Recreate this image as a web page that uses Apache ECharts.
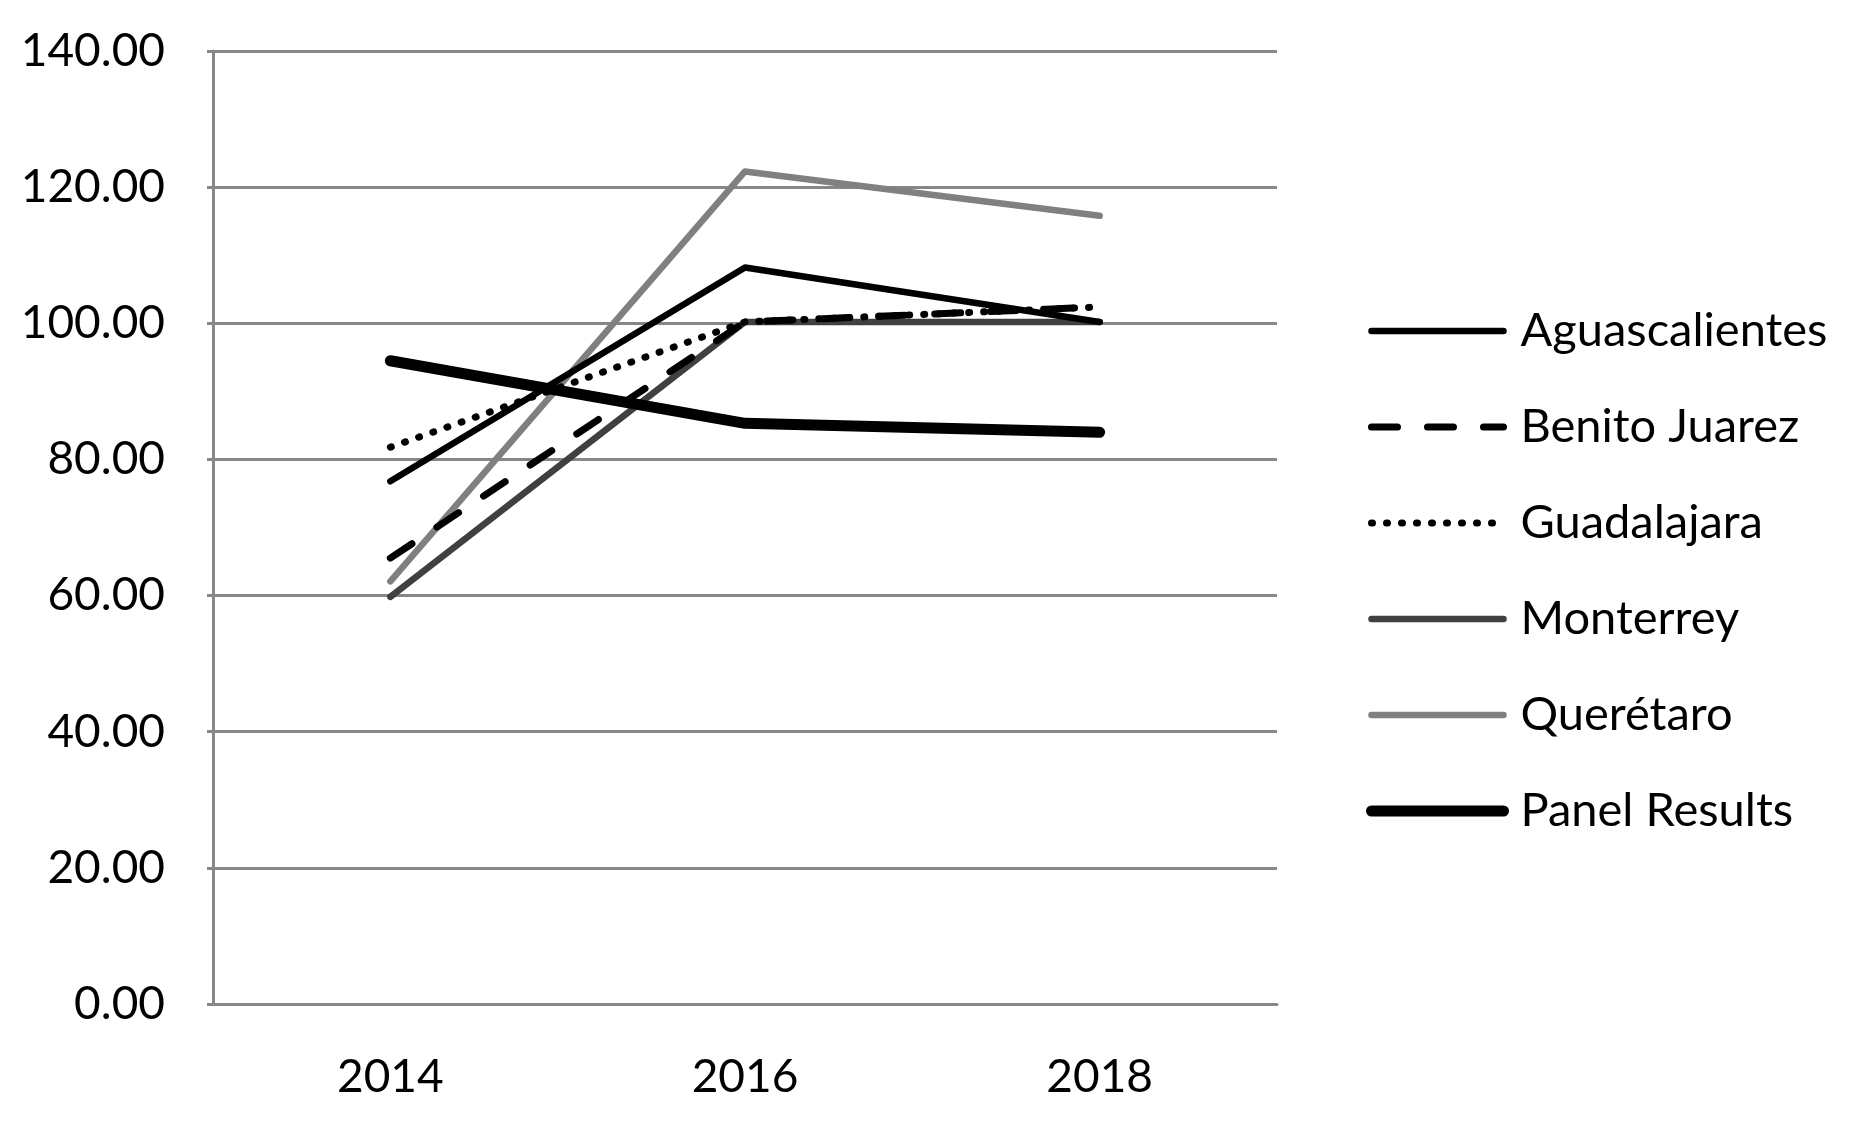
<!DOCTYPE html>
<html>
<head>
<meta charset="utf-8">
<script src="https://cdn.jsdelivr.net/npm/echarts@6/dist/echarts.min.js"></script>
<style>html,body{margin:0;padding:0;background:#fff;}#c{width:1858px;height:1121px;}</style>
</head>
<body>
<div id="c"></div>
<script>
const years = ['2014', '2016', '2018'];
const aguascalientes = [76.8, 108.2, 100.2];
const benitoJuarez = [65.5, 100.2, 102.4];
const guadalajara = [81.8, 100.2, 102.4];
const monterrey = [59.8, 100.2, 100.2];
const queretaro = [62.1, 122.3, 115.8];
const panelResults = [94.5, 85.3, 84.0];
const seriesNames = ['Aguascalientes', 'Benito Juarez', 'Guadalajara', 'Monterrey', 'Querétaro', 'Panel Results'];

const chart = echarts.init(document.getElementById('c'), null, {renderer: 'canvas'});
const font = 'Lato, "Open Sans", sans-serif';
function ser(name, data, color, width, type, z) {
  return {
    name: name, type: 'line', data: data, symbol: 'none', z: z,
    lineStyle: {color: color, width: width, type: type, cap: 'round', join: 'round'},
    itemStyle: {color: color},
    emphasis: {disabled: true}
  };
}
chart.setOption({
  animation: false,
  backgroundColor: '#ffffff',
  grid: {left: 213, top: 51, width: 1064, height: 953, containLabel: false},
  xAxis: {
    type: 'category', data: years, boundaryGap: true,
    axisLine: {lineStyle: {color: '#878787', width: 3}},
    axisTick: {show: false},
    axisLabel: {fontFamily: font, fontSize: 46, color: '#000', margin: 50},
    splitLine: {show: false}
  },
  yAxis: {
    type: 'value', min: 0, max: 140, interval: 20,
    axisLine: {show: true, lineStyle: {color: '#878787', width: 3}},
    axisTick: {show: true, length: 6, lineStyle: {color: '#878787', width: 3}},
    axisLabel: {fontFamily: font, fontSize: 46, color: '#000', margin: 48,
      formatter: v => v.toFixed(2)},
    splitLine: {show: true, lineStyle: {color: '#878787', width: 3}}
  },
  legend: {
    orient: 'vertical', left: 1366, top: 306, padding: 0,
    itemWidth: 132, itemHeight: 12, itemGap: 46,
    itemStyle: {opacity: 0},
    lineStyle: {width: 'inherit', type: 'inherit', cap: 'round'},
    textStyle: {fontFamily: font, fontSize: 47, color: '#000', lineHeight: 50, padding: [0,0,0,12]},
    data: seriesNames
  },
  series: [
    ser('Aguascalientes', aguascalientes, '#000000', 6.5, 'solid', 6),
    ser('Benito Juarez', benitoJuarez, '#000000', 7, [26, 30], 5),
    ser('Guadalajara', guadalajara, '#000000', 7, [1, 14], 4),
    ser('Monterrey', monterrey, '#404040', 6.5, 'solid', 3),
    ser('Querétaro', queretaro, '#808080', 6.5, 'solid', 2),
    ser('Panel Results', panelResults, '#000000', 11, 'solid', 7)
  ]
});
</script>
</body>
</html>
